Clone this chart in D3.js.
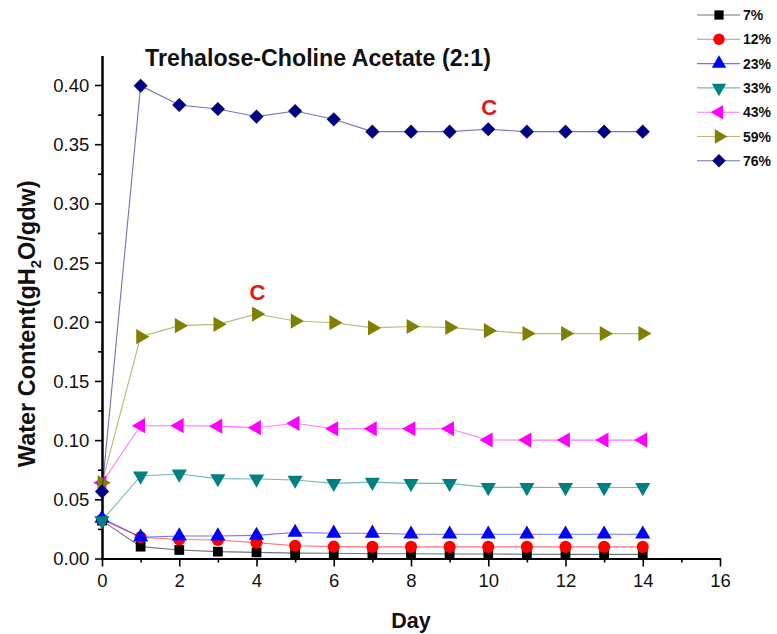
<!DOCTYPE html>
<html>
<head>
<meta charset="utf-8">
<script src="https://cdn.jsdelivr.net/npm/d3@7"></script>
<style>
  html, body { margin: 0; padding: 0; background: #fff; }
  svg { display: block; font-family: "Liberation Sans", Arial, sans-serif; }
</style>
</head>
<body>
<svg id="chart" width="777" height="634"></svg>
<script>
// Days sampled
const days = [0, 1, 2, 3, 4, 5, 6, 7, 8, 9, 10, 11, 12, 13, 14];

// Water content (gH2O/gdw) per relative humidity
const rh7  = [0.032, 0.010, 0.0072, 0.0058, 0.0052, 0.0045, 0.0044, 0.0040, 0.0040, 0.0038, 0.0038, 0.0036, 0.0035, 0.0035, 0.0035];
const rh12 = [0.033, 0.018, 0.0160, 0.0156, 0.0134, 0.0108, 0.0100, 0.0098, 0.0098, 0.0098, 0.0098, 0.0098, 0.0098, 0.0098, 0.0098];
const rh23 = [0.034, 0.018, 0.0190, 0.0190, 0.0195, 0.0220, 0.0213, 0.0213, 0.0205, 0.0205, 0.0205, 0.0205, 0.0205, 0.0205, 0.0205];
const rh33 = [0.032, 0.0697, 0.0714, 0.0675, 0.0672, 0.0663, 0.0635, 0.0645, 0.0635, 0.0635, 0.0601, 0.0601, 0.0600, 0.0600, 0.0600];
const rh43 = [0.064, 0.1122, 0.1122, 0.1118, 0.1105, 0.1142, 0.1096, 0.1096, 0.1096, 0.1096, 0.1001, 0.1000, 0.1000, 0.1000, 0.1000];
const rh59 = [0.064, 0.1874, 0.1967, 0.1978, 0.2065, 0.2006, 0.1992, 0.1948, 0.1960, 0.1952, 0.1925, 0.1900, 0.1900, 0.1900, 0.1900];
const rh76 = [0.0565, 0.3994, 0.3831, 0.3797, 0.3733, 0.3780, 0.3710, 0.3606, 0.3606, 0.3606, 0.3626, 0.3606, 0.3606, 0.3606, 0.3606];

const seriesNames = ["7%", "12%", "23%", "33%", "43%", "59%", "76%"];
const seriesValues = [rh7, rh12, rh23, rh33, rh43, rh59, rh76];
const seriesColors = ["#000000", "#ff0000", "#0000ff", "#008080", "#ff00ff", "#808000", "#000080"];
// symbol type and rotation for each series
const seriesSymbols = [
  { type: d3.symbolSquare,   rot: 0,   size: 95 },
  { type: d3.symbolCircle,   rot: 0,   size: 115 },
  { type: d3.symbolTriangle, rot: 0,   size: 100 },
  { type: d3.symbolTriangle, rot: 180, size: 100 },
  { type: d3.symbolTriangle, rot: -90, size: 100 },
  { type: d3.symbolTriangle, rot: 90,  size: 100 },
  { type: d3.symbolSquare,   rot: 45,  size: 100 }
];

// Annotations: [series index, day, label]
const notes = [[6, 10, "C"], [5, 4, "C"]];

const xTicks = [0, 2, 4, 6, 8, 10, 12, 14, 16];
const yTicks = [0, 0.05, 0.10, 0.15, 0.20, 0.25, 0.30, 0.35, 0.40];

const svg = d3.select("#chart");

const x = d3.scaleLinear().domain([0, 16]).range([102, 720]);
const y = d3.scaleLinear().domain([0, 0.425]).range([558.5, 55.4]);

// Axes
const xAxis = d3.axisBottom(x).tickValues(xTicks).tickFormat(d3.format("d")).tickSize(8).tickSizeOuter(0);
const xMinor = d3.axisBottom(x).tickValues(d3.range(1, 16, 2)).tickFormat("").tickSize(4).tickSizeOuter(0);
const yAxis = d3.axisLeft(y).tickValues(yTicks).tickFormat(d3.format(".2f")).tickSize(7).tickSizeOuter(0);
const yMinor = d3.axisLeft(y).tickValues(d3.range(0.025, 0.425, 0.05)).tickFormat("").tickSize(4).tickSizeOuter(0);

function styleAxis(g) {
  g.select(".domain").attr("stroke", "#000").attr("stroke-width", 2);
  g.selectAll(".tick line").attr("stroke", "#000").attr("stroke-width", 1.6);
  g.selectAll(".tick text").attr("fill", "#111").attr("font-size", 18.5)
    .attr("font-family", "'Liberation Sans', Arial, sans-serif");
}

svg.append("g").attr("transform", `translate(0,${y(0)})`).call(xMinor).call(styleAxis);
svg.append("g").attr("transform", `translate(0,${y(0)})`).call(xAxis).call(styleAxis)
  .selectAll(".tick text").attr("dy", "0.95em");
svg.append("g").attr("transform", `translate(${x(0)},0)`).call(yMinor).call(styleAxis);
svg.append("g").attr("transform", `translate(${x(0)},0)`).call(yAxis).call(styleAxis)
  .selectAll(".tick text").attr("dx", "-0.15em").attr("dy", "0.35em");

// Axis titles
svg.append("text")
  .attr("x", x(8)).attr("y", 628)
  .attr("text-anchor", "middle").attr("font-weight", "bold").attr("font-size", 21.5)
  .attr("fill", "#111").text("Day");

const yl = svg.append("text")
  .attr("transform", `translate(35,${y(0.2) + 2}) rotate(-90)`)
  .attr("text-anchor", "middle").attr("font-weight", "bold").attr("font-size", 23.5)
  .attr("fill", "#111");
yl.append("tspan").text("Water Content(gH");
yl.append("tspan").attr("font-size", 15).attr("dy", 6).text("2");
yl.append("tspan").attr("dy", -6).text("O/gdw)");

// Title
svg.append("text")
  .attr("x", 318).attr("y", 66)
  .attr("text-anchor", "middle").attr("font-weight", "bold").attr("font-size", 23.2)
  .attr("fill", "#111").text("Trehalose-Choline Acetate (2:1)");

// Lines and markers
const line = d3.line().x((d, i) => x(days[i])).y(d => y(d));

seriesValues.forEach((vals, si) => {
  const g = svg.append("g");
  g.append("path").datum(vals)
    .attr("d", line)
    .attr("fill", "none")
    .attr("stroke", seriesColors[si])
    .attr("stroke-opacity", 0.55)
    .attr("stroke-width", 1.1);
  const sym = seriesSymbols[si];
  g.selectAll("path.pt").data(vals).join("path")
    .attr("class", "pt")
    .attr("d", d3.symbol(sym.type, sym.size))
    .attr("transform", (d, i) => `translate(${x(days[i])},${y(d)}) rotate(${sym.rot})`)
    .attr("fill", seriesColors[si]);
});

// Annotation labels
notes.forEach(([si, day, label]) => {
  svg.append("text")
    .attr("x", x(day) + 1).attr("y", y(seriesValues[si][days.indexOf(day)]) - 14)
    .attr("text-anchor", "middle").attr("font-weight", "bold").attr("font-size", 22)
    .attr("fill", "#dd1a1a").text(label);
});

// Legend
const legend = svg.append("g");
seriesNames.forEach((name, si) => {
  const ly = 15 + si * 24.3;
  legend.append("line")
    .attr("x1", 697).attr("x2", 740).attr("y1", ly).attr("y2", ly)
    .attr("stroke", seriesColors[si]).attr("stroke-opacity", 0.55).attr("stroke-width", 1.1);
  const sym = seriesSymbols[si];
  legend.append("path")
    .attr("d", d3.symbol(sym.type, sym.size * 0.9))
    .attr("transform", `translate(719,${ly}) rotate(${sym.rot})`)
    .attr("fill", seriesColors[si]);
  legend.append("text")
    .attr("x", 743).attr("y", ly + 5)
    .attr("font-weight", "bold").attr("font-size", 14)
    .attr("fill", "#111").text(name);
});
</script>
</body>
</html>
